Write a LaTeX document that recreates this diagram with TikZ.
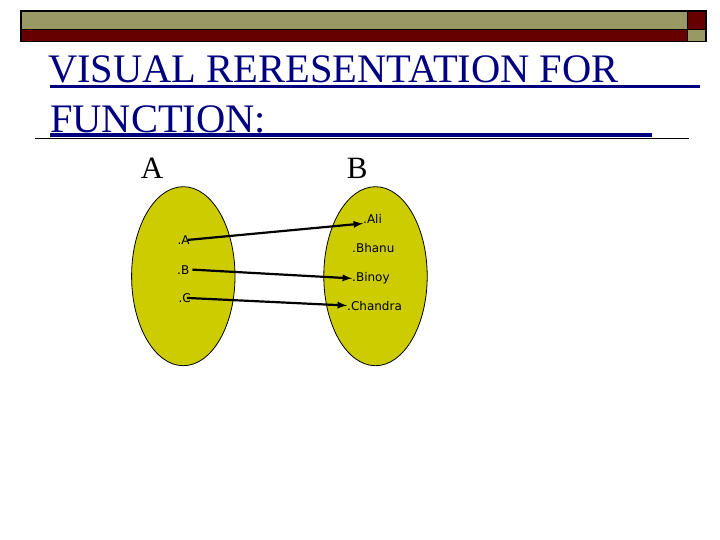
\documentclass[tikz,border=0pt]{standalone}
\usepackage{fontspec}
\setmainfont{Liberation Serif}
\newfontfamily\elemfont{DejaVu Sans}
\usetikzlibrary{arrows}
\definecolor{barolive}{RGB}{153,153,102}
\definecolor{bardarkred}{RGB}{102,0,0}
\definecolor{titleblue}{RGB}{0,0,128}
\definecolor{setyellow}{RGB}{204,204,0}

\begin{document}
\begin{tikzpicture}[x=1pt,y=-1pt,
    elem/.style={font=\elemfont\fontsize{12}{12}\selectfont,anchor=base west,inner sep=0},
    title/.style={titleblue,font=\fontsize{40.5}{40}\selectfont,anchor=base west,inner sep=0},
    setname/.style={font=\fontsize{31}{31}\selectfont,anchor=base west,inner sep=0},
    map/.style={-latex,line width=2.2pt}]
\useasboundingbox (0,0) rectangle (720,540);
% top bar
\fill[barolive] (21,11) rectangle (687.5,29.5);
\fill[bardarkred] (21,29.5) rectangle (687.5,41.5);
\fill[bardarkred] (687.5,11) rectangle (706,29.5);
\fill[barolive] (687.5,29.5) rectangle (706,41.5);
\draw[line width=1.8pt] (21,11) rectangle (706,41.5);
\draw[line width=1.8pt] (21,29.5) -- (706,29.5) (687.5,11) -- (687.5,41.5);
% title
\node[title] (title1) at (48,83) {VISUAL RERESENTATION FOR};
\node[title] (title2) at (50,133) {FUNCTION:};
\draw[titleblue,line width=3.2pt] (50,86.7) -- (700,86.7);
\draw[titleblue,line width=3.2pt] (50,135) -- (652,135);
\draw[line width=1.6pt] (35,138.5) -- (689,138.5);
% sets
\filldraw[fill=setyellow,line width=0.8pt] (183.3,276.2) ellipse (51.7 and 89.5);
\filldraw[fill=setyellow,line width=0.8pt] (375.5,276.2) ellipse (51.7 and 89.5);
\node[setname] (nameA) at (140.7,179) {A};
\node[setname] (nameB) at (346.7,179) {B};
% elements
\foreach \n/\t/\x/\y in {a/A/177.3/244.3, b/B/177/274, c/C/178.3/302.3}
    \node[elem] (\n) at (\x,\y) {.\t};
\foreach \n/\t/\x/\y in {ali/Ali/363/223.3, bhanu/Bhanu/352/252.7,
                         binoy/Binoy/352/281.7, chandra/Chandra/347/310}
    \node[elem] (\n) at (\x,\y) {.\t};
% mapping
\draw[map] ([xshift=-2pt]a.east) -- (ali.south west);
\draw[map] ([xshift=3pt]b.east) -- (binoy.west);
\draw[map] ([xshift=-4pt]c.east) -- (chandra.west);
\end{tikzpicture}
\end{document}
